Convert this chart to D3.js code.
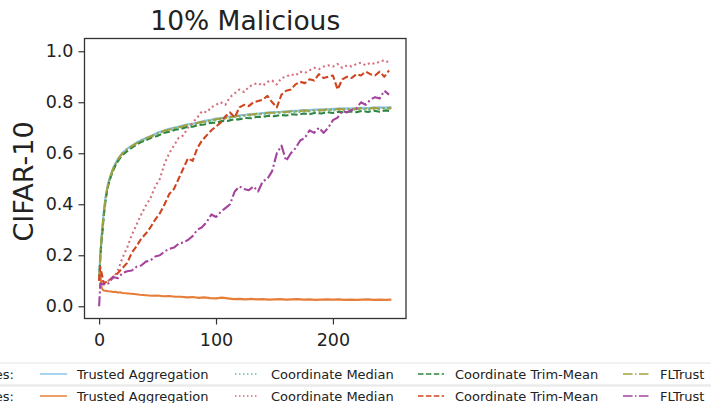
<!DOCTYPE html>
<html><head><meta charset="utf-8">
<script src="https://cdn.jsdelivr.net/npm/d3@7"></script>
<style>body{margin:0;background:#fff;} svg{display:block;font-family:"DejaVu Sans",sans-serif;}</style>
</head><body>
<svg id="chart" width="711" height="403"></svg>
<script>
// ---------- data ----------
const title = "10% Malicious";
const yLabel = "CIFAR-10";
const xTicks = [0, 100, 200];
const yTicks = [0.0, 0.2, 0.4, 0.6, 0.8, 1.0];
const legendRowLabels = ["Benign Defenses:", "Attacked Defenses:"];
const methodNames = ["Trusted Aggregation", "Coordinate Median", "Coordinate Trim-Mean", "FLTrust"];

const epochsB = [0,1,2,3,4,5,6,7,8,10,12,14,16,18,20,25,30,35,40,45,50,55,60,65,70,75,80,85,90,95,100,105,110,115,120,125,130,135,140,145,150,155,160,165,170,175,180,185,190,195,200,205,210,215,220,225,230,235,240,245,250];
const epochsM = [0,1,4,8,12,16,20,24,28,32,36,40,44,48,52,56,60,64,68,72,76,80,84,88,92,96,100,104,108,112,116,120,124,128,132,136,140,144,148,152,156,160,164,168,172,176,180,184,188,192,196,200,204,208,212,216,220,224,228,232,236,240,244,248];

// benign row
const trustedBenign = [0.10,0.20,0.27,0.32,0.37,0.41,0.44,0.465,0.487,0.515,0.542,0.56,0.577,0.59,0.602,0.621,0.636,0.649,0.66,0.669,0.681,0.688,0.696,0.701,0.707,0.713,0.716,0.721,0.727,0.73,0.736,0.738,0.743,0.745,0.749,0.751,0.754,0.755,0.758,0.76,0.762,0.763,0.765,0.766,0.767,0.769,0.769,0.771,0.772,0.772,0.774,0.775,0.776,0.775,0.777,0.778,0.777,0.779,0.78,0.779,0.781];
const medianBenign = [0.10,0.19,0.26,0.31,0.36,0.40,0.436,0.46,0.481,0.511,0.536,0.556,0.571,0.585,0.596,0.616,0.632,0.646,0.655,0.666,0.674,0.686,0.69,0.698,0.702,0.709,0.711,0.718,0.721,0.728,0.729,0.735,0.737,0.742,0.743,0.747,0.748,0.752,0.752,0.756,0.756,0.759,0.759,0.762,0.761,0.765,0.764,0.767,0.766,0.769,0.768,0.771,0.77,0.772,0.771,0.774,0.772,0.775,0.774,0.776,0.775];
const trimBenign = [0.10,0.19,0.25,0.30,0.355,0.395,0.43,0.455,0.478,0.508,0.532,0.553,0.568,0.582,0.593,0.612,0.628,0.642,0.651,0.662,0.668,0.679,0.684,0.692,0.695,0.703,0.704,0.711,0.713,0.719,0.72,0.726,0.727,0.733,0.733,0.738,0.737,0.743,0.742,0.747,0.745,0.75,0.748,0.753,0.751,0.756,0.753,0.759,0.756,0.761,0.758,0.763,0.76,0.764,0.761,0.766,0.762,0.767,0.763,0.768,0.765];
const fltrustBenign = [0.10,0.20,0.265,0.315,0.365,0.405,0.44,0.463,0.485,0.513,0.54,0.558,0.575,0.588,0.6,0.619,0.634,0.647,0.658,0.668,0.678,0.687,0.693,0.7,0.704,0.711,0.714,0.72,0.724,0.729,0.733,0.737,0.74,0.744,0.746,0.75,0.751,0.755,0.755,0.759,0.759,0.762,0.762,0.765,0.764,0.768,0.766,0.77,0.768,0.772,0.77,0.774,0.772,0.775,0.773,0.777,0.774,0.778,0.775,0.778,0.776];

// attacked row
const trustedAttacked = [0.10,0.13,0.075,0.065,0.062,0.061,0.06,0.06,0.059,0.058,0.056,0.057,0.054,0.055,0.052,0.05,0.048,0.045,0.043,0.041,0.042,0.039,0.04,0.037,0.037,0.035,0.036,0.033,0.035,0.032,0.031,0.034,0.031,0.028,0.029,0.027,0.029,0.027,0.028,0.026,0.027,0.028,0.026,0.027,0.028,0.026,0.027,0.025,0.026,0.027,0.026,0.027,0.025,0.026,0.025,0.026,0.027,0.025,0.026,0.025,0.026];
const medianAttacked = [0.10,0.12,0.085,0.10,0.11,0.14,0.19,0.23,0.28,0.32,0.36,0.395,0.425,0.47,0.50,0.56,0.60,0.63,0.66,0.67,0.70,0.72,0.74,0.765,0.76,0.78,0.79,0.80,0.79,0.82,0.835,0.85,0.84,0.86,0.87,0.875,0.865,0.88,0.885,0.87,0.895,0.90,0.91,0.905,0.92,0.915,0.925,0.935,0.93,0.94,0.945,0.94,0.95,0.935,0.945,0.94,0.95,0.955,0.945,0.955,0.95,0.96,0.965,0.955];
const trimAttacked = [0.10,0.155,0.09,0.10,0.115,0.13,0.15,0.17,0.21,0.235,0.265,0.285,0.31,0.34,0.365,0.40,0.44,0.46,0.50,0.54,0.58,0.57,0.62,0.65,0.67,0.69,0.705,0.72,0.745,0.76,0.74,0.78,0.79,0.785,0.80,0.805,0.81,0.825,0.80,0.78,0.83,0.845,0.85,0.87,0.88,0.875,0.89,0.885,0.91,0.895,0.90,0.905,0.85,0.89,0.90,0.895,0.91,0.905,0.92,0.91,0.905,0.92,0.90,0.925];
const fltrustAttacked = [0.0,0.09,0.085,0.09,0.115,0.11,0.13,0.137,0.14,0.155,0.16,0.175,0.18,0.195,0.20,0.215,0.225,0.23,0.245,0.25,0.26,0.275,0.30,0.31,0.33,0.36,0.35,0.37,0.385,0.40,0.45,0.47,0.46,0.455,0.47,0.45,0.49,0.50,0.53,0.60,0.63,0.57,0.60,0.62,0.65,0.66,0.69,0.68,0.70,0.68,0.70,0.73,0.74,0.765,0.76,0.77,0.775,0.80,0.79,0.81,0.82,0.815,0.845,0.83];

const seriesColors = ["#8cc5ea","#66bfa6","#2e8540","#a3a13e","#e67e3a","#d4707c","#cf4520","#a4449e"];
const dashStyles = ["", "1.5,2.5", "5.5,2.4", "9.6,2.4,1.5,2.4"];
const plotDash = ["", "2,3", "6.5,2.8", "10,2.8,2,2.8"];

// ---------- build ----------
const series = [
  {row:0, m:0, x:epochsB, y:trustedBenign},
  {row:0, m:1, x:epochsB, y:medianBenign},
  {row:0, m:2, x:epochsB, y:trimBenign},
  {row:0, m:3, x:epochsB, y:fltrustBenign},
  {row:1, m:0, x:epochsB, y:trustedAttacked},
  {row:1, m:1, x:epochsM, y:medianAttacked},
  {row:1, m:2, x:epochsM, y:trimAttacked},
  {row:1, m:3, x:epochsM, y:fltrustAttacked}
];

const svg = d3.select("#chart");
const L = 84.5, R = 406, T = 38.5, B = 318.5;
const x = d3.scaleLinear().domain([-12.5, 262.5]).range([L, R]);
const y = d3.scaleLinear().domain([-0.048, 1.05]).range([B, T]);

const gPlot = svg.append("g");
gPlot.append("clipPath").attr("id","clip").append("rect")
  .attr("x", L).attr("y", T).attr("width", R-L).attr("height", B-T);
const lineGen = d3.line().x(d => x(d[0])).y(d => y(d[1]));
const linesG = gPlot.append("g").attr("clip-path","url(#clip)");
series.forEach((s, i) => {
  linesG.append("path")
    .attr("d", lineGen(s.x.map((e, j) => [e, s.y[j]])))
    .attr("fill","none")
    .attr("stroke", seriesColors[i])
    .attr("stroke-width", 2.1)
    .attr("stroke-dasharray", plotDash[s.m] || null)
    .attr("stroke-linejoin","round");
});

// axes
const xAxis = d3.axisBottom(x).tickValues(xTicks).tickSize(6).tickPadding(5).tickFormat(d3.format("d"));
const yAxis = d3.axisLeft(y).tickValues(yTicks).tickSize(6).tickPadding(5).tickFormat(d3.format(".1f"));
const gx = svg.append("g").attr("transform",`translate(0,${B})`).call(xAxis);
const gy = svg.append("g").attr("transform",`translate(${L},0)`).call(yAxis);
[gx, gy].forEach(g => {
  g.select(".domain").remove();
  g.selectAll(".tick line").attr("stroke","#333").attr("stroke-width",1.2);
  g.selectAll(".tick text").attr("fill","#222").style("font-size","17.5px").style("font-family","DejaVu Sans");
});
gx.selectAll(".tick text").attr("dy","0.95em");

svg.append("rect").attr("x",L).attr("y",T).attr("width",R-L).attr("height",B-T)
  .attr("fill","none").attr("stroke","#333").attr("stroke-width",1.3);

svg.append("text").attr("x",(L+R)/2).attr("y",29.5).attr("text-anchor","middle")
  .style("font-size","26.5px").attr("fill","#222").text(title);

svg.append("text").attr("transform",`translate(33,${(T+B)/2 + 3}) rotate(-90)`)
  .attr("text-anchor","middle").style("font-size","27px").attr("fill","#222").text(yLabel);

// legend
const rowY = [374, 396];
const boxTop = [363, 386];
const sampleX = [[40,67],[235,258],[418,444],[623,649]];
const textX = [77, 271, 455, 660];
const leg = svg.append("g");
boxTop.forEach((t, r) => {
  leg.append("rect").attr("x",-10).attr("y",t).attr("width",731).attr("height",22)
    .attr("rx",3).attr("fill","#fff").attr("stroke","#e3e3e3").attr("stroke-width",1);
});
series.forEach((s, i) => {
  const cy = rowY[s.row];
  leg.append("line").attr("x1",sampleX[s.m][0]).attr("x2",sampleX[s.m][1])
    .attr("y1",cy).attr("y2",cy).attr("stroke",seriesColors[i]).attr("stroke-width",1.5)
    .attr("stroke-dasharray", dashStyles[s.m] || null);
  leg.append("text").attr("x",textX[s.m]).attr("y",cy+4.5)
    .style("font-size","13px").attr("fill","#222").text(methodNames[s.m]);
});
legendRowLabels.forEach((lab, r) => {
  leg.append("text").attr("x",14).attr("y",rowY[r]+4.5).attr("text-anchor","end")
    .style("font-size","13px").attr("fill","#222").text(lab);
});
</script>
</body></html>
